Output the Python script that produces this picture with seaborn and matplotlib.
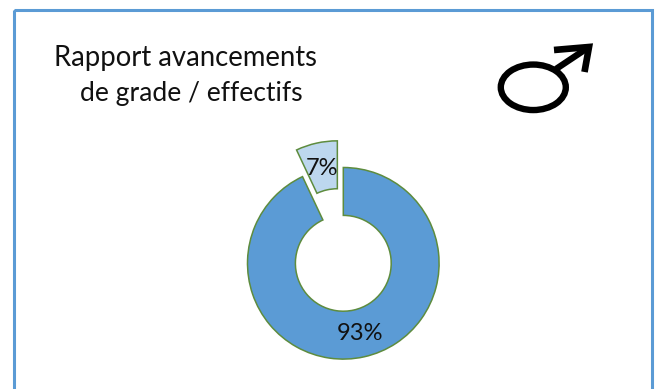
import matplotlib
matplotlib.use("Agg")
import matplotlib.pyplot as plt
from matplotlib.patches import Ellipse, Rectangle
from matplotlib.lines import Line2D
import seaborn as sns

labels = ["7%", "93%"]
values = [7, 93]
colors = ["#BDD7EE", "#5B9BD5"]
explode = [0.285, 0]
title_lines = ["Rapport avancements", "de grade / effectifs"]

sns.set_theme(style="white")
plt.rcParams['font.family'] = ['Lato', 'DejaVu Sans']

W, H = 656, 389
fig = plt.figure(figsize=(W/100, H/100), dpi=100, facecolor="white")

# overlay in pixel coordinates (y down)
bg = fig.add_axes([0, 0, 1, 1])
bg.set_xlim(0, W); bg.set_ylim(H, 0); bg.axis("off")
bg.add_patch(Rectangle((13.5, 9.5), 638, 400, fill=False, ec="#5B9BD5", lw=2.2))

# donut
cx, cy, r = 343.3, 263.3, 95.8
half = r * 1.5
ax = fig.add_axes([(cx-half)/W, 1-(cy+half)/H, 2*half/W, 2*half/H])
ax.pie(values, colors=colors, explode=explode, startangle=90, radius=1,
       wedgeprops=dict(width=0.5, edgecolor="#5E8C3E", linewidth=1.1))
ax.set_xlim(-1.5, 1.5); ax.set_ylim(-1.5, 1.5); ax.set_aspect("equal")
ax.axis("off")

# text overlay
ov = fig.add_axes([0, 0, 1, 1])
ov.set_xlim(0, W); ov.set_ylim(H, 0); ov.axis("off"); ov.patch.set_alpha(0)
ov.text(186, 58, title_lines[0], ha="center", va="center", fontsize=19.8, color="#111111")
ov.text(191, 93, title_lines[1], ha="center", va="center", fontsize=19.1, color="#111111")
ov.text(322, 168, labels[0], ha="center", va="center", fontsize=17, color="#111111")
ov.text(359.5, 333, labels[1], ha="center", va="center", fontsize=17, color="#111111")

# male symbol
ov.add_patch(Ellipse((533.3, 87.3), 65, 45.5, fill=False, ec="black", lw=4.6))
ov.add_line(Line2D([556, 589], [69, 47], color="black", lw=4.6, solid_capstyle="butt"))
ov.add_line(Line2D([554, 589, 584.5], [50, 47, 72], color="black", lw=4.8,
                   solid_joinstyle="miter", solid_capstyle="butt"))

fig.savefig("out.png", dpi=100)
